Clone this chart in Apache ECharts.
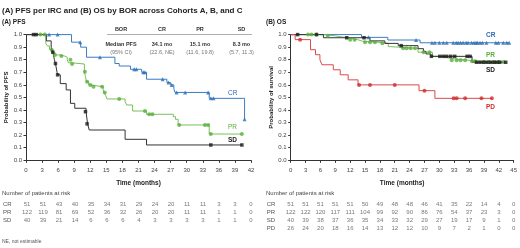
<!DOCTYPE html>
<html>
<head>
<meta charset="utf-8">
<script src="https://cdn.jsdelivr.net/npm/echarts@6/dist/echarts.min.js"></script>
<style>
  html, body { margin: 0; padding: 0; background: #fff; }
  #chart { width: 520px; height: 248px; }
</style>
</head>
<body>
<div id="chart"></div>
<script>
// ---- data ----
var groups = ["CR", "PR", "SD"];
var osGroups = ["CR", "PR", "SD", "PD"];

// PFS (A): drop points [months, probability] and censor marks
var pfsCrEvents = [[8.5, 0.94], [10.2, 0.9], [11.3, 0.82], [16.6, 0.77], [17.4, 0.75], [19.5, 0.724], [21.6, 0.7], [22.5, 0.645], [26.3, 0.618], [27.0, 0.6], [27.6, 0.57], [27.8, 0.54], [34.2, 0.493], [40.8, 0.326]];
var pfsCrCensor = [[4.3, 1], [5.9, 1], [10.1, 0.94], [13.8, 0.82], [20.2, 0.724], [20.6, 0.724], [21.9, 0.7], [22.2, 0.7], [25.5, 0.645], [26.6, 0.618], [27.2, 0.6], [28.1, 0.54], [29.7, 0.54], [34.0, 0.54], [34.5, 0.493], [35.0, 0.493], [40.8, 0.326]];
var pfsPrEvents = [[3.7, 0.93], [4.0, 0.91], [4.4, 0.88], [5.0, 0.86], [5.4, 0.838], [6.2, 0.83], [7.2, 0.82], [7.7, 0.8], [7.9, 0.776], [8.4, 0.766], [10.9, 0.705], [11.1, 0.665], [11.3, 0.625], [11.7, 0.6], [12.1, 0.585], [14.4, 0.56], [14.6, 0.54], [14.9, 0.513], [15.1, 0.488], [18.5, 0.466], [18.8, 0.44], [19.9, 0.392], [22.5, 0.366], [27.5, 0.347], [27.9, 0.326], [28.4, 0.281], [34.2, 0.209]];
var pfsPrCensor = [[2.7, 1], [3.5, 1], [4.8, 0.88], [5.4, 0.838], [6.6, 0.83], [8.3, 0.8], [8.6, 0.766], [11.0, 0.705], [11.4, 0.625], [12.0, 0.6], [12.6, 0.585], [14.2, 0.585], [14.7, 0.54], [17.4, 0.488], [22.2, 0.392], [23.0, 0.366], [23.6, 0.366], [28.6, 0.281], [33.4, 0.281], [34.0, 0.281], [34.5, 0.209], [40.3, 0.209]];
var pfsSdEvents = [[3.8, 0.95], [4.7, 0.9], [5.0, 0.86], [5.3, 0.8], [5.5, 0.77], [5.8, 0.7], [5.9, 0.68], [6.4, 0.61], [7.5, 0.56], [8.3, 0.453], [9.1, 0.414], [11.2, 0.387], [11.5, 0.29], [11.8, 0.241], [18.5, 0.167], [22.5, 0.122]];
var pfsSdCensor = [[1.4, 1], [1.9, 1], [5.0, 0.86], [5.5, 0.77], [5.9, 0.68], [11.1, 0.387], [11.4, 0.29], [34.5, 0.122], [40.3, 0.122]];

// OS (B)
var osCrEvents = [[14.3, 0.978], [19.6, 0.957], [26.1, 0.935]];
var osCrCensor = [[15.7, 0.978], [25.3, 0.957], [28.5, 0.935], [29.1, 0.935], [30.0, 0.935], [30.8, 0.935], [31.5, 0.935], [32.8, 0.935], [33.4, 0.935], [33.8, 0.935], [34.3, 0.935], [34.8, 0.935], [35.4, 0.935], [35.8, 0.935], [36.5, 0.935], [37.0, 0.935], [37.4, 0.935], [37.7, 0.935], [38.2, 0.935], [38.7, 0.935], [39.5, 0.935], [41.4, 0.935], [41.9, 0.935], [42.9, 0.935], [43.6, 0.935], [44.1, 0.935]];
var osPrEvents = [[6.6, 0.99], [9.0, 0.975], [11.3, 0.96], [13.5, 0.947], [14.5, 0.94], [17.5, 0.931], [19.7, 0.904], [20.2, 0.891], [25.7, 0.86], [28.6, 0.827], [30.0, 0.82], [31.3, 0.81], [32.3, 0.795], [36.2, 0.788], [37.9, 0.782]];
var osPrCensor = [[3.5, 1], [4.2, 1], [5.2, 1], [7.5, 0.99], [12.0, 0.96], [12.9, 0.96], [15.0, 0.94], [16.0, 0.94], [17.0, 0.94], [18.5, 0.931], [22.7, 0.891], [23.4, 0.891], [24.2, 0.891], [25.1, 0.891], [26.8, 0.86], [28.0, 0.86], [32.5, 0.795], [33.5, 0.795], [34.3, 0.795], [35.2, 0.795], [36.6, 0.788], [37.2, 0.788], [39.0, 0.782], [40.0, 0.782], [41.0, 0.782], [42.0, 0.782], [42.9, 0.782]];
var osSdEvents = [[6.6, 0.975], [16.0, 0.95], [19.0, 0.93], [21.7, 0.912], [25.7, 0.888], [26.8, 0.867], [27.3, 0.846], [28.3, 0.827], [36.6, 0.78]];
var osSdCensor = [[1.4, 1], [5.2, 1], [11.3, 0.975], [14.8, 0.975], [22.3, 0.912], [28.4, 0.827], [30.1, 0.827], [30.8, 0.827], [31.5, 0.827], [32.3, 0.827], [33.1, 0.827], [35.6, 0.827], [36.2, 0.827], [37.5, 0.78], [38.2, 0.78], [38.9, 0.78], [39.6, 0.78], [40.3, 0.78], [41.0, 0.78], [41.6, 0.78], [42.2, 0.78], [43.4, 0.78]];
var osPdEvents = [[0.9, 0.96], [4.0, 0.88], [5.0, 0.84], [5.9, 0.8], [6.3, 0.76], [8.6, 0.72], [10.0, 0.68], [11.6, 0.64], [13.6, 0.6], [25.9, 0.554], [29.1, 0.493]];
var osPdCensor = [[1.9, 0.96], [13.8, 0.6], [16.0, 0.6], [21.0, 0.6], [27.0, 0.554], [32.9, 0.493], [33.5, 0.493], [35.2, 0.493], [38.5, 0.493], [40.6, 0.493]];

// numbers at risk
var pfsTimes = [0, 3, 6, 9, 12, 15, 18, 21, 24, 27, 30, 33, 36, 39, 42];
var pfsRiskCR = [51, 51, 43, 40, 35, 34, 31, 29, 24, 20, 11, 11, 3, 3, 0];
var pfsRiskPR = [122, 119, 81, 69, 52, 36, 32, 26, 20, 20, 11, 11, 1, 1, 0];
var pfsRiskSD = [40, 39, 21, 14, 6, 6, 6, 4, 3, 3, 3, 3, 1, 1, 0];
var osTimes = [0, 3, 6, 9, 12, 15, 18, 21, 24, 27, 30, 33, 36, 39, 42, 45];
var osRiskCR = [51, 51, 51, 51, 51, 50, 49, 48, 48, 46, 41, 35, 22, 14, 4, 0];
var osRiskPR = [122, 122, 120, 117, 111, 104, 99, 92, 90, 86, 76, 54, 37, 23, 3, 0];
var osRiskSD = [40, 39, 38, 37, 36, 35, 34, 33, 32, 29, 27, 19, 17, 9, 1, 0];
var osRiskPD = [26, 24, 20, 18, 16, 14, 13, 12, 12, 10, 9, 7, 2, 1, 0, 0];

// median PFS table
var tableHead = ["BOR", "CR", "PR", "SD"];
var medianPfs = ["34.1 mo", "15.1 mo", "8.3 mo"];
var medianCi = ["(22.6, NE)", "(11.6, 19.8)", "(5.7, 11.3)"];

// ---- styling ----
var FONT = "'Liberation Sans', Arial, sans-serif";
var colors = { CR: "#2b6cb5", PR: "#5aae3c", SD: "#1a1a1a", PD: "#d32a2a" };
var lineColors = { CR: "#3a7cc2", PR: "#78c05c", SD: "#333333", PD: "#db4a4a" };
var symbols = { CR: "triangle", PR: "circle", SD: "rect", PD: "circle" };

function kmLine(events, censor) {
  var data = [[0, 1]].concat(events);
  var last = data[data.length - 1];
  var tEnd = Math.max.apply(null, censor.map(function (c) { return c[0]; }));
  if (tEnd > last[0]) data.push([tEnd, last[1]]);
  return data;
}

function curve(g, events, censor, axisIdx) {
  return [
    {
      type: "line", step: "end", xAxisIndex: axisIdx, yAxisIndex: axisIdx,
      data: kmLine(events, censor), showSymbol: false, animation: false,
      lineStyle: { color: lineColors[g], width: 1 }, z: 3
    },
    {
      type: "scatter", xAxisIndex: axisIdx, yAxisIndex: axisIdx,
      data: censor, symbol: symbols[g], symbolSize: g === "SD" ? 3.5 : 4,
      itemStyle: { color: colors[g] }, animation: false, z: 4
    }
  ];
}

function riskSeries(rows, times, lists, axisIdx) {
  var data = [];
  rows.forEach(function (r, i) {
    times.forEach(function (t, j) { data.push([t, r, lists[i][j]]); });
  });
  return {
    type: "scatter", xAxisIndex: axisIdx, yAxisIndex: axisIdx, data: data,
    symbolSize: 1, itemStyle: { color: "rgba(0,0,0,0)" }, animation: false,
    label: {
      show: true, position: "inside", fontSize: 6, color: "#555", fontFamily: FONT,
      formatter: function (p) { return String(p.value[2]); }
    }
  };
}

function plotX(idx, max) {
  return {
    type: "value", gridIndex: idx, min: 0, max: max, interval: 3, offset: 4,
    name: "Time (months)", nameLocation: "middle", nameGap: 15,
    nameTextStyle: { fontSize: 6.5, fontWeight: "bold", color: "#222", fontFamily: FONT },
    axisLine: { lineStyle: { color: "#333", width: 1 } },
    axisTick: { show: true, length: 2.5, lineStyle: { color: "#333" } },
    axisLabel: { fontSize: 6, color: "#444", margin: 3, fontFamily: FONT },
    splitLine: { show: false }
  };
}

function plotY(idx, name) {
  return {
    type: "value", gridIndex: idx, min: 0, max: 1, interval: 0.1,
    name: name, nameLocation: "middle", nameGap: 16,
    nameTextStyle: { fontSize: 6, fontWeight: "bold", color: "#222", fontFamily: FONT },
    axisLine: { show: true, lineStyle: { color: "#333", width: 1 } },
    axisTick: { show: true, length: 2.5, lineStyle: { color: "#333" } },
    axisLabel: { fontSize: 6, color: "#444", margin: 4, fontFamily: FONT,
      formatter: function (v) { return v.toFixed(1); } },
    splitLine: { show: false }
  };
}

function riskX(idx, max) {
  return { type: "value", gridIndex: idx, min: 0, max: max, show: false };
}

function riskY(idx, rows) {
  return {
    type: "category", gridIndex: idx, data: rows, inverse: true,
    axisLine: { show: false }, axisTick: { show: false },
    axisLabel: { fontSize: 6, color: "#555", align: "left", margin: 24, fontFamily: FONT }
  };
}

var series = []
  .concat(curve("CR", pfsCrEvents, pfsCrCensor, 0))
  .concat(curve("PR", pfsPrEvents, pfsPrCensor, 0))
  .concat(curve("SD", pfsSdEvents, pfsSdCensor, 0))
  .concat(curve("CR", osCrEvents, osCrCensor, 1))
  .concat(curve("PR", osPrEvents, osPrCensor, 1))
  .concat(curve("SD", osSdEvents, osSdCensor, 1))
  .concat(curve("PD", osPdEvents, osPdCensor, 1));
series.push(riskSeries(groups, pfsTimes, [pfsRiskCR, pfsRiskPR, pfsRiskSD], 2));
series.push(riskSeries(osGroups, osTimes, [osRiskCR, osRiskPR, osRiskSD, osRiskPD], 3));

function txt(x, y, s, opt) {
  opt = opt || {};
  return {
    type: "text", x: x, y: y, silent: true,
    style: {
      text: s, fontSize: opt.size || 6, fontWeight: opt.bold ? "bold" : "normal",
      fill: opt.color || "#222", fontFamily: FONT,
      align: opt.align || "left", verticalAlign: "middle"
    }
  };
}

var graphics = [
  txt(2, 11, "(A) PFS per IRC and (B) OS by BOR across Cohorts A, B, and C", { size: 8, bold: true }),
  txt(2, 22.5, "(A) PFS", { size: 6.5, bold: true }),
  txt(266, 22.5, "(B) OS", { size: 6.5, bold: true }),
  txt(2, 193, "Number of patients at risk", { size: 6, color: "#444" }),
  txt(266, 193, "Number of patients at risk", { size: 6, color: "#444" }),
  txt(2, 241.5, "NE, not estimable", { size: 5, color: "#555" }),
  { type: "line", silent: true, shape: { x1: 107, y1: 34.5, x2: 252, y2: 34.5 },
    style: { stroke: "#999", lineWidth: 0.8 } },
  // curve labels
  txt(228, 93.5, "CR", { size: 6.5, color: colors.CR }),
  txt(228, 127.5, "PR", { size: 6.5, color: colors.PR }),
  txt(228, 140, "SD", { size: 6.5, bold: true, color: colors.SD }),
  txt(486, 35, "CR", { size: 6.5, bold: true, color: colors.CR }),
  txt(486, 55, "PR", { size: 6.5, bold: true, color: colors.PR }),
  txt(486, 70.5, "SD", { size: 6.5, bold: true, color: colors.SD }),
  txt(486, 107.5, "PD", { size: 6.5, bold: true, color: colors.PD })
];
var colX = [121, 162, 200, 241.5];
tableHead.forEach(function (h, i) {
  graphics.push(txt(colX[i], 29.5, h, { size: 5.5, bold: true, align: "center", color: "#333" }));
});
graphics.push(txt(colX[0], 44.3, "Median PFS", { size: 5.5, bold: true, align: "center", color: "#333" }));
graphics.push(txt(colX[0], 52.7, "(95% CI)", { size: 5.5, align: "center", color: "#777" }));
medianPfs.forEach(function (m, i) {
  graphics.push(txt(colX[i + 1], 44.3, m, { size: 5.5, bold: true, align: "center", color: "#333" }));
  graphics.push(txt(colX[i + 1], 52.7, medianCi[i], { size: 5.5, align: "center", color: "#777" }));
});

var option = {
  backgroundColor: "#fff",
  animation: false,
  grid: [
    { left: 26, width: 225, top: 34.6, height: 125.7 },
    { left: 290.7, width: 223, top: 34.6, height: 125.7 },
    { left: 26, width: 225, top: 199.9, height: 24.6 },
    { left: 290.7, width: 223, top: 199.9, height: 32.8 }
  ],
  xAxis: [plotX(0, 42), plotX(1, 45), riskX(2, 42), riskX(3, 45)],
  yAxis: [plotY(0, "Probability of PFS"), plotY(1, "Probability of survival"),
    riskY(2, groups), riskY(3, osGroups)],
  series: series,
  graphic: graphics
};

var myChart = echarts.init(document.getElementById("chart"), null, { renderer: "canvas" });
myChart.setOption(option);
</script>
</body>
</html>
